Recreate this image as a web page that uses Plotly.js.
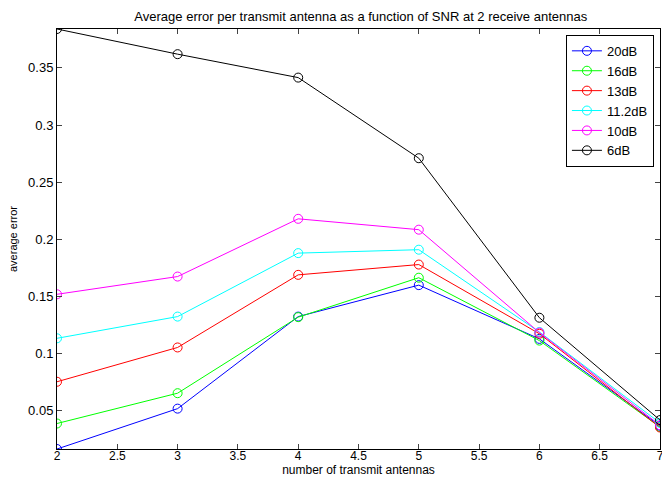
<!DOCTYPE html>
<html>
<head>
<meta charset="utf-8">
<script src="https://cdn.plot.ly/plotly-3.0.1.min.js"></script>
<style>html,body{margin:0;padding:0;background:#fff;}#chart{width:662px;height:479px;}</style>
</head>
<body>
<div id="chart"></div>
<script>
const antennas = [2, 3, 4, 5, 6, 7];
const seriesNames = ["20dB", "16dB", "13dB", "11.2dB", "10dB", "6dB"];
const seriesColors = ["#0000ff", "#00ff00", "#ff0000", "#00ffff", "#ff00ff", "#000000"];
const err20 = [0.0167, 0.0520, 0.1325, 0.1600, 0.1130, 0.0370];
const err16 = [0.0390, 0.0655, 0.1320, 0.1665, 0.1115, 0.0360];
const err13 = [0.0755, 0.1055, 0.1690, 0.1780, 0.1175, 0.0355];
const err112 = [0.1135, 0.1325, 0.1880, 0.1910, 0.1190, 0.0395];
const err10 = [0.1520, 0.1675, 0.2180, 0.2085, 0.1185, 0.0375];
const err6 = [0.3840, 0.3620, 0.3415, 0.2710, 0.1315, 0.0420];
const yTickVals = [0.05, 0.1, 0.15, 0.2, 0.25, 0.3, 0.35];
const yTickText = ["0.05", "0.1", "0.15", "0.2", "0.25", "0.3", "0.35"];
const xTickVals = [2, 2.5, 3, 3.5, 4, 4.5, 5, 5.5, 6, 6.5, 7];
const xTickText = ["2", "2.5", "3", "3.5", "4", "4.5", "5", "5.5", "6", "6.5", "7"];

const allSeries = [err20, err16, err13, err112, err10, err6];
const traces = allSeries.map((ys, i) => ({
  x: antennas, y: ys, name: seriesNames[i], type: "scatter", mode: "lines+markers",
  line: {color: seriesColors[i], width: 1},
  marker: {symbol: "circle-open", size: 9, color: seriesColors[i], line: {width: 1, color: seriesColors[i]}}
}));

const fam = "Liberation Sans, Arial, sans-serif";
const font13 = {family: fam, size: 13, color: "#000"};
const font12 = {family: fam, size: 12, color: "#000"};
const layout = {
  width: 662, height: 479,
  margin: {l: 57, r: 2, t: 29, b: 30},
  paper_bgcolor: "#fff", plot_bgcolor: "#fff",
  font: font13,
  showlegend: true,
  title: {text: "Average error per transmit antenna as a function of SNR at 2 receive antennas",
          font: font13, x: 0.545, xanchor: "center", y: 0.965, yanchor: "middle"},
  xaxis: {range: [2, 7], tickvals: xTickVals, ticktext: xTickText, ticks: "inside", ticklen: 5,
          ticklabeloverflow: "allow", ticklabelstandoff: -4,
          showline: true, mirror: "ticks", linecolor: "#000", linewidth: 1, showgrid: false, zeroline: false,
          tickfont: font12, title: {text: "number of transmit antennas", font: font12, standoff: 0}},
  yaxis: {range: [0.0167, 0.384], tickvals: yTickVals, ticktext: yTickText, ticks: "inside", ticklen: 5,
          showline: true, mirror: "ticks", linecolor: "#000", linewidth: 1, showgrid: false, zeroline: false,
          tickfont: font13, title: {text: "average error", font: {family: fam, size: 11, color: "#000"}, standoff: 8}},
  legend: {x: 0.844, y: 0.986, xanchor: "left", yanchor: "top", bgcolor: "#fff",
           bordercolor: "#000", borderwidth: 1, font: font13, tracegroupgap: 0, itemwidth: 30}
};
Plotly.newPlot("chart", traces, layout, {displayModeBar: false, staticPlot: true});
</script>
</body>
</html>
